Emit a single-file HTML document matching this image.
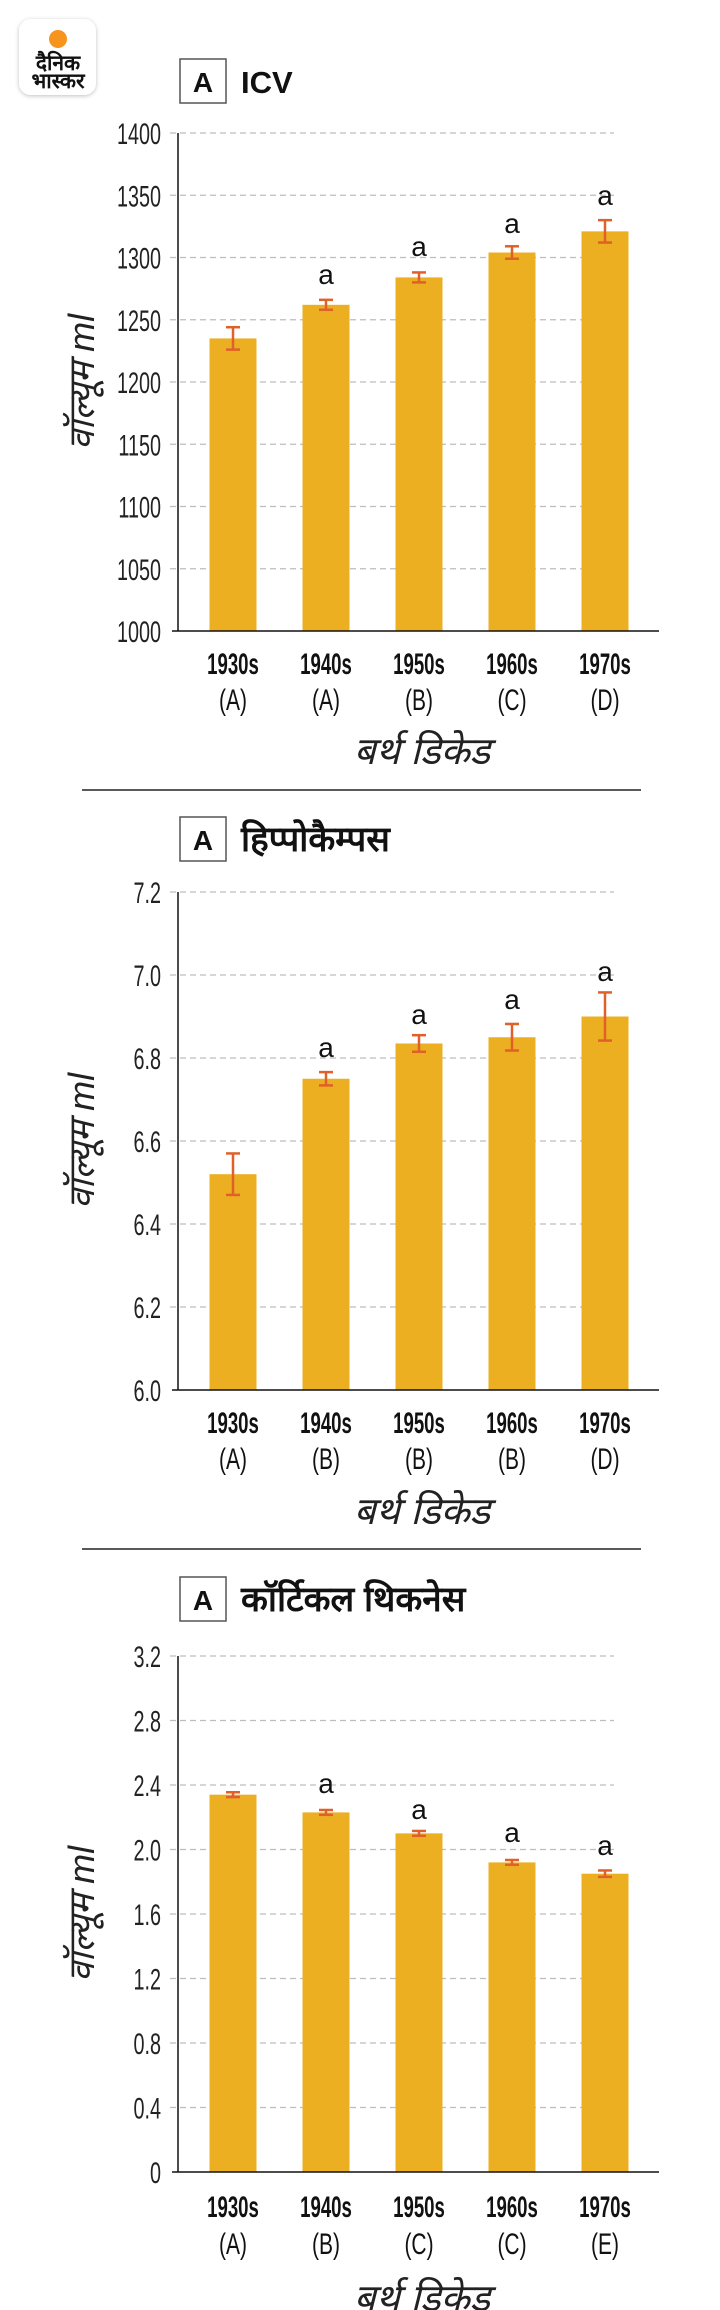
<!DOCTYPE html>
<html><head><meta charset="utf-8">
<style>
html,body{margin:0;padding:0;background:#fff;width:720px;height:2310px;overflow:hidden}
svg{display:block}
.tk{font-family:"Liberation Sans",sans-serif;font-size:30px;fill:#222}
.xl{font-family:"Liberation Sans",sans-serif;font-size:30px;fill:#111}
.dv{font-family:"Liberation Sans","Noto Sans CJK SC","DejaVu Sans",sans-serif}
</style></head><body>
<svg id="s" xmlns="http://www.w3.org/2000/svg" width="720" height="2310" viewBox="0 0 720 2310">
<defs><filter id="sh" x="-20%" y="-20%" width="140%" height="140%"><feDropShadow dx="0" dy="1" stdDeviation="2" flood-opacity="0.25"/></filter></defs>
<rect x="19" y="19" width="77" height="76" rx="12" fill="#fff" filter="url(#sh)"/>
<circle cx="58" cy="39" r="9" fill="#f7941d"/>
<text x="58" y="70" text-anchor="middle" class="dv" font-size="21" font-weight="bold" fill="#111">दैनिक</text>
<text x="58" y="88" text-anchor="middle" class="dv" font-size="21" font-weight="bold" fill="#111">भास्कर</text>
</svg>
<script>
var s=document.getElementById('s'),NS='http://www.w3.org/2000/svg';
function el(t,a,txt){var e=document.createElementNS(NS,t);for(var k in a)e.setAttribute(k,a[k]);if(txt!=null)e.textContent=txt;s.appendChild(e);return e;}
var cx=[233,326,419,512,605],bw=47;
var charts=[
{box:59,title:'ICV',top:133,bot:631,min:1000,max:1400,step:50,dec:0,
 vals:[1235,1262,1284,1304,1321],err:[9,4,4,5,9],a:[null,275,247,224,196],
 lab:['(A)','(A)','(B)','(C)','(D)'],xl1:663,xl2:699,xt:752,yt:382,sep:790},
{box:817,title:'हिप्पोकैम्पस',top:892,bot:1390,min:6,max:7.2,step:0.2,dec:1,
 vals:[6.52,6.75,6.835,6.85,6.90],err:[0.05,0.016,0.02,0.032,0.058],a:[null,1048,1015,1000,972],
 lab:['(A)','(B)','(B)','(B)','(D)'],xl1:1422,xl2:1458,xt:1512,yt:1141,sep:1549},
{box:1577,title:'कॉर्टिकल थिकनेस',top:1656,bot:2172,min:0,max:3.2,step:0.4,dec:1,
 vals:[2.34,2.23,2.10,1.92,1.85],err:[0.015,0.015,0.015,0.015,0.02],a:[null,1784,1810,1833,1846],
 lab:['(A)','(B)','(C)','(C)','(E)'],xl1:2206,xl2:2243,xt:2299,yt:1914,sep:null}];
charts.forEach(function(c){
 el('rect',{x:180,y:c.box,width:46,height:44,fill:'#fff',stroke:'#555','stroke-width':1.5});
 el('text',{x:203,y:c.box+33,'text-anchor':'middle','class':'dv','font-size':28,'font-weight':'bold',fill:'#111'},'A');
 el('text',{x:241,y:c.box+34,'class':'dv','font-size':c.title=='ICV'?31:35,'font-weight':'bold',fill:'#111'},c.title);
 function Y(v){return c.bot-(v-c.min)/(c.max-c.min)*(c.bot-c.top);}
 var n=Math.round((c.max-c.min)/c.step);
 for(var i=0;i<=n;i++){var v=c.min+i*c.step,y=Y(v);
  if(i>0)el('line',{x1:170,y1:y,x2:614,y2:y,stroke:'#bdbdbd','stroke-width':1.3,'stroke-dasharray':'6 4'});
  var t=(c.dec?v.toFixed(c.dec):String(Math.round(v)));
  if(c.min==0&&i==0)t='0';
  el('text',{x:0,y:0,'text-anchor':'end','class':'tk',transform:'translate(161,'+(y+11)+') scale(0.66,1)'},t);}
 for(var j=0;j<5;j++){var yv=Y(c.vals[j]);
  el('rect',{x:cx[j]-bw/2,y:yv,width:bw,height:c.bot-yv,fill:'#ecaf22'});
  var y1=Y(c.vals[j]+c.err[j]),y2=Y(c.vals[j]-c.err[j]);
  el('line',{x1:cx[j],y1:y1,x2:cx[j],y2:y2,stroke:'#e0602a','stroke-width':2.5});
  el('line',{x1:cx[j]-7,y1:y1,x2:cx[j]+7,y2:y1,stroke:'#e0602a','stroke-width':2.5});
  el('line',{x1:cx[j]-7,y1:y2,x2:cx[j]+7,y2:y2,stroke:'#e0602a','stroke-width':2.5});
  if(c.a[j])el('text',{x:cx[j],y:c.a[j]+9,'text-anchor':'middle','class':'dv','font-size':28,fill:'#111'},'a');
  el('text',{x:0,y:0,'text-anchor':'middle','class':'xl','font-weight':'bold',transform:'translate('+cx[j]+','+(c.xl1+11)+') scale(0.62,1)'},(1930+j*10)+'s');
  el('text',{x:0,y:0,'text-anchor':'middle','class':'xl',transform:'translate('+cx[j]+','+(c.xl2+11)+') scale(0.7,1)'},c.lab[j]);}
 el('line',{x1:178,y1:c.top,x2:178,y2:c.bot,stroke:'#111','stroke-width':1.5});
 el('line',{x1:172,y1:c.bot,x2:659,y2:c.bot,stroke:'#111','stroke-width':1.5});
 el('text',{x:422,y:c.xt+12,'text-anchor':'middle','class':'dv','font-size':38,'font-style':'italic',fill:'#222'},'बर्थ डिकेड');
 el('text',{x:0,y:0,'text-anchor':'middle','class':'dv','font-size':36,'font-style':'italic',fill:'#222',transform:'translate(94,'+c.yt+') rotate(-90)'},'वॉल्यूम ml');
 if(c.sep)el('line',{x1:82,y1:c.sep,x2:641,y2:c.sep,stroke:'#222','stroke-width':1.5});
});
</script>
</body></html>
